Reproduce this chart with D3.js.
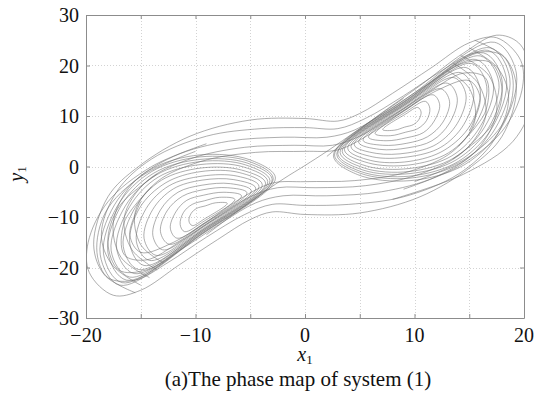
<!DOCTYPE html>
<html><head><meta charset="utf-8">
<script src="https://cdn.jsdelivr.net/npm/d3@7"></script>
<style>body{margin:0;background:#fff}svg{display:block}</style>
</head><body><svg id="c" width="541" height="397"></svg>
<script>
const xDomain = [-20, 20];
const yDomain = [-30, 30];
const xGridTicks = [-20, -15, -10, -5, 0, 5, 10, 15, 20];
const xLabelTicks = [-20, -10, 0, 10, 20];
const yTicks = [-30, -20, -10, 0, 10, 20, 30];
const xTitle = "x";
const yTitle = "y";
const caption = "(a)The phase map of system (1)";

// left-lobe loops (x1, y1): bottom, lower-left, left, upper-left, top, upper-right, tip, band
const leftLoops = [
 [[-10.3,-11.7],[-10.6,-10.8],[-10.4,-9.3],[-9.9,-8.3],[-9.1,-7.8],[-8.2,-7.2],[-7.1,-7.3],[-9.2,-10.4]],
 [[-11.0,-12.9],[-11.4,-11.5],[-11.1,-9.1],[-10.3,-7.5],[-9.2,-6.8],[-7.8,-6.1],[-6.4,-6.5],[-9.2,-10.8]],
 [[-11.7,-14.2],[-12.3,-12.2],[-11.8,-9.0],[-10.8,-6.7],[-9.3,-5.7],[-7.4,-5.1],[-5.8,-5.8],[-9.2,-11.2]],
 [[-12.4,-15.4],[-13.2,-12.9],[-12.6,-8.8],[-11.2,-5.9],[-9.3,-4.6],[-7.1,-4.2],[-5.3,-5.2],[-9.3,-11.5]],
 [[-13.0,-16.5],[-13.9,-13.6],[-13.2,-8.6],[-11.6,-5.1],[-9.4,-3.7],[-6.8,-3.4],[-4.9,-4.8],[-9.3,-11.8]],
 [[-13.6,-17.6],[-14.7,-14.2],[-13.9,-8.5],[-12.0,-4.4],[-9.4,-2.7],[-6.5,-2.6],[-4.5,-4.3],[-9.3,-12.0]],
 [[-14.2,-18.6],[-15.4,-14.8],[-14.5,-8.3],[-12.4,-3.8],[-9.4,-1.9],[-6.2,-1.9],[-4.2,-3.9],[-9.3,-12.3]],
 [[-14.7,-19.6],[-16.0,-15.3],[-15.1,-8.2],[-12.7,-3.2],[-9.5,-1.0],[-6.0,-1.2],[-3.9,-3.6],[-9.3,-12.5]],
 [[-15.2,-20.4],[-16.6,-15.8],[-15.5,-8.1],[-13.1,-2.7],[-9.5,-0.3],[-5.8,-0.7],[-3.6,-3.3],[-9.4,-12.7]],
 [[-15.6,-21.2],[-17.2,-16.3],[-16.0,-7.9],[-13.4,-2.1],[-9.5,0.4],[-5.6,-0.1],[-3.4,-3.0],[-9.4,-12.9]],
 [[-16.0,-21.9],[-17.7,-16.7],[-16.4,-7.8],[-13.6,-1.7],[-9.5,1.0],[-5.4,0.3],[-3.2,-2.8],[-9.4,-13.0]],
 [[-16.3,-22.5],[-18.0,-17.0],[-16.8,-7.8],[-13.8,-1.3],[-9.6,1.4],[-5.3,0.7],[-3.0,-2.6],[-9.4,-13.2]],
 [[-16.7,-23.0],[-18.4,-17.3],[-17.1,-7.7],[-14.0,-1.0],[-9.6,1.9],[-5.1,1.0],[-2.9,-2.4],[-9.4,-13.3]],
 [[-16.9,-23.5],[-18.7,-17.5],[-17.4,-7.6],[-14.2,-0.7],[-9.6,2.3],[-5.0,1.3],[-2.7,-2.3],[-9.4,-13.4]]
];

// right-lobe loops: top, upper-right, right, lower-right, bottom, lower-left, tip, band
const rightLoops = [
 [[10.3,11.7],[10.6,10.8],[10.4,9.3],[9.9,8.3],[9.1,7.8],[8.2,7.2],[7.1,7.3],[9.2,10.4]],
 [[11.0,12.9],[11.4,11.5],[11.1,9.1],[10.3,7.5],[9.2,6.8],[7.8,6.1],[6.4,6.5],[9.2,10.8]],
 [[11.7,14.2],[12.3,12.2],[11.8,9.0],[10.8,6.7],[9.3,5.7],[7.4,5.1],[5.8,5.8],[9.2,11.2]],
 [[12.4,15.4],[13.2,12.9],[12.6,8.8],[11.2,5.9],[9.3,4.6],[7.1,4.2],[5.3,5.2],[9.3,11.5]],
 [[13.0,16.5],[13.9,13.6],[13.2,8.6],[11.6,5.1],[9.4,3.7],[6.8,3.4],[4.9,4.8],[9.3,11.8]],
 [[13.6,17.6],[14.7,14.2],[13.9,8.5],[12.0,4.4],[9.4,2.7],[6.5,2.6],[4.5,4.3],[9.3,12.0]],
 [[14.2,18.6],[15.4,14.8],[14.5,8.3],[12.4,3.8],[9.4,1.9],[6.2,1.9],[4.2,3.9],[9.3,12.3]],
 [[14.7,19.6],[16.0,15.3],[15.1,8.2],[12.7,3.2],[9.5,1.0],[6.0,1.2],[3.9,3.6],[9.3,12.5]],
 [[15.2,20.4],[16.6,15.8],[15.5,8.1],[13.1,2.7],[9.5,0.3],[5.8,0.7],[3.6,3.3],[9.4,12.7]],
 [[15.6,21.2],[17.2,16.3],[16.0,7.9],[13.4,2.1],[9.5,-0.4],[5.6,0.1],[3.4,3.0],[9.4,12.9]],
 [[16.0,21.9],[17.7,16.7],[16.4,7.8],[13.6,1.7],[9.5,-1.0],[5.4,-0.3],[3.2,2.8],[9.4,13.0]],
 [[16.3,22.5],[18.0,17.0],[16.8,7.8],[13.8,1.3],[9.6,-1.4],[5.3,-0.7],[3.0,2.6],[9.4,13.2]],
 [[16.7,23.0],[18.4,17.3],[17.1,7.7],[14.0,1.0],[9.6,-1.9],[5.1,-1.0],[2.9,2.4],[9.4,13.3]],
 [[16.9,23.5],[18.7,17.5],[17.4,7.6],[14.2,0.7],[9.6,-2.3],[5.0,-1.3],[2.7,2.3],[9.4,13.4]],
 [[17.3,24.6],[19.3,18.5],[18.0,7.9],[14.6,0.4],[9.6,-2.8],[4.8,-1.6],[2.6,2.2],[9.5,13.8]]
];

// trajectories passing from one lobe to the other
const crossings = [
 [[-15.5,-25],[-18.3,-21.5],[-19.3,-15.5],[-18,-6],[-15.2,0],[-10.5,6],[-5,9.2],[0,9.5],[3,9],[5,10.5],[8,14.5],[11.5,19.5],[15,24.5],[17.5,25.5],[19.7,21],[19.8,15],[18,7],[14,0],[9,-4.5]],
 [[-15,-23.5],[-17.6,-19.5],[-18.6,-13.5],[-17.2,-5],[-14,1.5],[-9,6],[-4,7.5],[0,7.7],[3,7.5],[5.5,9.5],[9,14],[12.5,19],[15.5,22.5],[18,22],[19,17],[18.2,9],[15,2],[10,-3]],
 [[-14.2,-22],[-16.8,-18],[-17.5,-11],[-15.8,-3.5],[-12,2],[-7,5],[-2,5.8],[2,5.8],[4.5,7.2],[7.5,11],[11,16],[14.5,20.5],[17,20.5],[18,15],[17,8],[13.5,1.5]],
 [[-13.5,-20.5],[-15.8,-16.5],[-16.5,-10],[-14.5,-3],[-10.5,1.5],[-5.5,3.8],[-1,4.2],[2.5,4.2],[5,6],[8,10],[11.5,15],[14.5,18.5],[16.5,17.5],[16.5,11],[14,4]],
 [[-13,-19],[-15,-15.5],[-15.5,-9],[-13.5,-3],[-9.5,1],[-4.5,2.8],[0,3],[3,3.3],[6,6.5],[9,11],[12,15],[15,17],[16,13.5],[15,7]],
 [[15.5,25],[18.3,21.5],[19.3,15.5],[18,6],[15.2,0],[10.5,-6],[5,-9.2],[0,-9.5],[-3,-9],[-5,-10.5],[-8,-14.5],[-11.5,-19.5],[-15,-24.5],[-17.5,-25.5],[-19.7,-21],[-19.8,-15],[-18,-7],[-14,0],[-9,4.5]],
 [[15,23.5],[17.6,19.5],[18.6,13.5],[17.2,5],[14,-1.5],[9,-6],[4,-7.5],[0,-7.7],[-3,-7.5],[-5.5,-9.5],[-9,-14],[-12.5,-19],[-15.5,-22.5],[-18,-22],[-19,-17],[-18.2,-9],[-15,-2],[-10,3]],
 [[14.2,22],[16.8,18],[17.5,11],[15.8,3.5],[12,-2],[7,-5],[2,-5.8],[-2,-5.8],[-4.5,-7.2],[-7.5,-11],[-11,-16],[-14.5,-20.5],[-17,-20.5],[-18,-15],[-17,-8],[-13.5,-1.5]],
 [[13.5,20.5],[15.8,16.5],[16.5,10],[14.5,3],[10.5,-1.5],[5.5,-3.8],[1,-4.2],[-2.5,-4.2],[-5,-6],[-8,-10],[-11.5,-15],[-14.5,-18.5],[-16.5,-17.5],[-16.5,-11],[-14,-4]],
 [[13,19],[15,15.5],[15.5,9],[13.5,3],[9.5,-1],[4.5,-2.8],[0,-3],[-3,-3.3],[-6,-6.5],[-9,-11],[-12,-15],[-15,-17],[-16,-13.5],[-15,-7]],
 [[2,2],[6,9],[10.5,16],[14.5,22.5],[17.5,26],[19.5,24.5],[20.6,19.5],[20.8,13],[19,5],[14.5,-1.5],[8,-6.5]],
 [[-9,-13.5],[-5,-7],[-2,-2.5],[0,0.2],[2,3],[5,7.5],[9,13.5]]
];

const svg = d3.select("#c");
const pL = 86, pR = 524, pT = 15, pB = 318;
const x = d3.scaleLinear().domain(xDomain).range([pL, pR]);
const y = d3.scaleLinear().domain(yDomain).range([pB, pT]);
const serif = "'Liberation Serif','Times New Roman',serif";
const axisCol = "#8c8c8c";

svg.append("defs").append("clipPath").attr("id","clip")
  .append("rect").attr("x",pL).attr("y",pT).attr("width",pR-pL).attr("height",pB-pT);

// grid
const grid = svg.append("g").attr("stroke","#c8c8c8").attr("stroke-width",0.8).attr("stroke-dasharray","1,2");
grid.selectAll("line.v").data(xGridTicks.slice(1,-1)).join("line")
  .attr("x1",d=>Math.round(x(d))+0.5).attr("x2",d=>Math.round(x(d))+0.5).attr("y1",pT).attr("y2",pB);
grid.selectAll("line.h").data(yTicks.slice(1,-1)).join("line")
  .attr("y1",d=>Math.round(y(d))+0.5).attr("y2",d=>Math.round(y(d))+0.5).attr("x1",pL).attr("x2",pR);

// trajectories
const g = svg.append("g").attr("clip-path","url(#clip)").attr("fill","none")
  .attr("stroke","#6a6a6a").attr("stroke-width",0.55);
const loopLine = d3.line().x(d=>x(d[0])).y(d=>y(d[1])).curve(d3.curveCatmullRomClosed.alpha(0.5));
const openLine = d3.line().x(d=>x(d[0])).y(d=>y(d[1])).curve(d3.curveCatmullRom.alpha(0.5));
g.selectAll("path.r").data(rightLoops).join("path").attr("class","r").attr("d",loopLine);
g.selectAll("path.l").data(leftLoops).join("path").attr("class","l").attr("d",loopLine);
g.selectAll("path.c").data(crossings).join("path").attr("class","c").attr("d",openLine);

// axes (box with inward ticks)
function styleAxis(a){ a.selectAll("path,line").attr("stroke",axisCol); a.selectAll("text").remove(); }
styleAxis(svg.append("g").attr("transform",`translate(0,${pB})`)
  .call(d3.axisBottom(x).tickValues(xGridTicks).tickSizeInner(-4).tickSizeOuter(0)));
styleAxis(svg.append("g").attr("transform",`translate(0,${pT})`)
  .call(d3.axisTop(x).tickValues(xGridTicks).tickSizeInner(-4).tickSizeOuter(0)));
styleAxis(svg.append("g").attr("transform",`translate(${pL},0)`)
  .call(d3.axisLeft(y).tickValues(yTicks).tickSizeInner(-4).tickSizeOuter(0)));
styleAxis(svg.append("g").attr("transform",`translate(${pR},0)`)
  .call(d3.axisRight(y).tickValues(yTicks).tickSizeInner(-4).tickSizeOuter(0)));

// tick labels
const fmt = d3.format("d");
svg.append("g").selectAll("text").data(xLabelTicks).join("text")
  .attr("x",d=>x(d)).attr("y",342).attr("text-anchor","middle")
  .attr("font-family",serif).attr("font-size",20).attr("fill","#111").text(d=>fmt(d));
svg.append("g").selectAll("text").data(yTicks).join("text")
  .attr("x",79).attr("y",d=>y(d)+7).attr("text-anchor","end")
  .attr("font-family",serif).attr("font-size",20).attr("fill","#111").text(d=>fmt(d));

// axis titles
const xl = svg.append("text").attr("x",305).attr("y",361).attr("text-anchor","middle")
  .attr("font-family",serif).attr("font-size",20).attr("fill","#111");
xl.append("tspan").attr("font-style","italic").text(xTitle);
xl.append("tspan").attr("font-size",13).attr("dy",3).text("1");

const ylab = svg.append("text").attr("transform","translate(23,174) rotate(-90)").attr("text-anchor","middle")
  .attr("font-family",serif).attr("font-size",20).attr("fill","#111");
ylab.append("tspan").attr("font-style","italic").text(yTitle);
ylab.append("tspan").attr("font-size",13).attr("dy",3).text("1");

svg.append("text").attr("x",298).attr("y",386).attr("text-anchor","middle")
  .attr("font-family",serif).attr("font-size",21).attr("fill","#111").text(caption);
</script></body></html>
